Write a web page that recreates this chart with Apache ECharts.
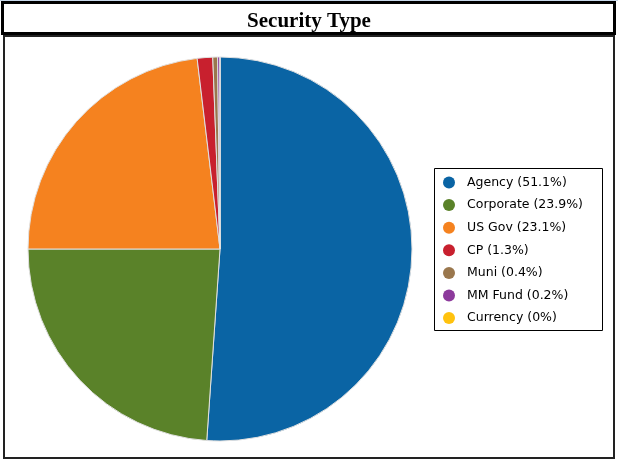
<!DOCTYPE html>
<html>
<head>
<meta charset="utf-8">
<script src="https://cdn.jsdelivr.net/npm/echarts@6/dist/echarts.min.js"></script>
<style>
  html, body { margin: 0; padding: 0; background: #fff; }
  #main { width: 618px; height: 462px; }
</style>
</head>
<body>
<div id="main"></div>
<script>
// security type breakdown (% of portfolio)
const categories = ["Agency", "Corporate", "US Gov", "CP", "Muni", "MM Fund", "Currency"];
const values = [51.1, 23.9, 23.1, 1.3, 0.4, 0.2, 0];
const colors = ["#0a64a4", "#5a8229", "#f5821f", "#c8202e", "#9a774d", "#8d3a9c", "#ffc20e"];

const chart = echarts.init(document.getElementById("main"));

let pieData = categories.map(function (c, i) {
  return { name: c, value: values[i] };
});

let option = {
  animation: false,
  color: colors,
  title: {
    text: "Security Type",
    left: "center",
    top: 6,
    textStyle: {
      fontFamily: "Liberation Serif",
      fontWeight: "bold",
      fontSize: 21,
      color: "#000"
    }
  },
  legend: {
    orient: "vertical",
    left: 443,
    top: 176,
    padding: 0,
    itemGap: 9.6,
    itemWidth: 12,
    itemHeight: 12,
    icon: "circle",
    itemStyle: { borderWidth: 0 },
    data: categories,
    formatter: function (name) {
      let v = values[categories.indexOf(name)];
      return name + " (" + (Math.round(v * 10) / 10) + "%)";
    },
    textStyle: {
      fontFamily: "DejaVu Sans",
      fontSize: 12.5,
      color: "#000",
      padding: [0, 0, 0, 7]
    }
  },
  graphic: [
    { type: "rect", shape: { x: 0, y: 0, width: 618, height: 1 }, style: { fill: "#c8d8ea" } },
    { type: "rect", shape: { x: 2.5, y: 2.5, width: 612, height: 31 }, style: { fill: "none", stroke: "#000", lineWidth: 3 }, z: 10 },
    { type: "rect", shape: { x: 4, y: 36, width: 610, height: 422 }, style: { fill: "none", stroke: "#222", lineWidth: 2 }, z: 10 },
    { type: "rect", shape: { x: 434.5, y: 168.5, width: 168, height: 162 }, style: { fill: "none", stroke: "#000", lineWidth: 1 }, z: 10 }
  ],
  series: [{
    name: "Security Type",
    type: "pie",
    center: [220, 249],
    radius: 192,
    startAngle: 90,
    clockwise: true,
    label: { show: false },
    labelLine: { show: false },
    itemStyle: { borderColor: "#e0e0e0", borderWidth: 1 },
    emphasis: { disabled: true },
    data: pieData
  }]
};
chart.setOption(option);
</script>
</body>
</html>
